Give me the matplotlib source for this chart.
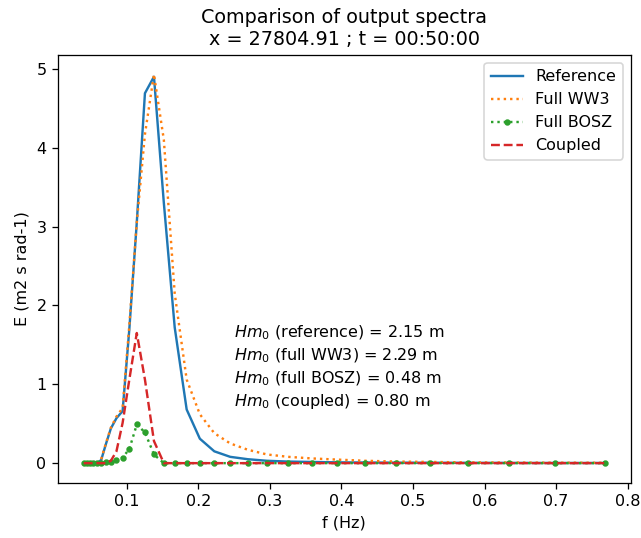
import numpy as np
import matplotlib
matplotlib.use("Agg")
import matplotlib.pyplot as plt

# --- frequencies (Hz)
freq = [0.0400, 0.0440, 0.0484, 0.0532, 0.0586, 0.0644, 0.0709, 0.0779,
        0.0857, 0.0943, 0.1037, 0.1141, 0.1255, 0.1381, 0.1519, 0.1671,
        0.1838, 0.2022, 0.2224, 0.2446, 0.2691, 0.2960, 0.3256, 0.3582,
        0.3940, 0.4334, 0.4767, 0.5244, 0.5768, 0.6345, 0.6980, 0.7678]

# --- spectra E (m2 s rad-1)
e_reference = [0, 0, 0, 0, 0, 0.04, 0.24, 0.44, 0.57, 0.66, 1.70, 3.05,
               4.69, 4.90, 3.30, 1.72, 0.68, 0.31, 0.15, 0.08, 0.05, 0.03,
               0.02, 0.015, 0.01, 0.008, 0.006, 0.005, 0.004, 0.003, 0.002, 0.002]
e_full_ww3 = [0, 0, 0, 0, 0, 0.05, 0.25, 0.45, 0.59, 0.70, 1.75, 3.05,
              4.17, 4.93, 4.10, 2.15, 1.06, 0.62, 0.38, 0.25, 0.17, 0.11,
              0.08, 0.06, 0.045, 0.03, 0.02, 0.015, 0.01, 0.008, 0.006, 0.005]
e_full_bosz = [0, 0, 0, 0, 0, 0, 0.01, 0.02, 0.04, 0.07, 0.18, 0.49,
               0.39, 0.11, 0, 0, 0, 0, 0, 0, 0, 0,
               0, 0, 0, 0, 0, 0, 0, 0, 0, 0]
e_coupled = [0, 0, 0, 0, 0, 0, 0, 0.03, 0.15, 0.51, 1.06, 1.65,
             1.06, 0.28, 0, 0, 0, 0, 0, 0, 0, 0,
             0, 0, 0, 0, 0, 0, 0, 0, 0, 0]

hm0_labels = ["reference", "full WW3", "full BOSZ", "coupled"]
hm0_values = [2.15, 2.29, 0.48, 0.80]

# reference was rendered a bit larger than 100 dpi
DPI = 115
fig, ax = plt.subplots(figsize=(641 / DPI, 538 / DPI), dpi=DPI)
fig.subplots_adjust(left=0.09, right=0.984, top=0.898, bottom=0.103)

ax.plot(freq, e_reference, linestyle='-', label='Reference')
ax.plot(freq, e_full_ww3, linestyle=':', label='Full WW3')
ax.plot(freq, e_full_bosz, linestyle=':', marker='.', label='Full BOSZ')
ax.plot(freq, e_coupled, linestyle='--', label='Coupled')

# Hm0 annotations
for i, (lab, val) in enumerate(zip(hm0_labels, hm0_values)):
    ax.text(0.25, 1.59 - 0.287 * i, r'$Hm_0$ (%s) = %.2f m' % (lab, val))

ax.set_xlabel('f (Hz)')
ax.set_ylabel('E (m2 s rad-1)')
ax.set_title('Comparison of output spectra\nx = 27804.91 ; t = 00:50:00')
ax.legend(loc='upper right')

fig.savefig("out.png", dpi=DPI)
